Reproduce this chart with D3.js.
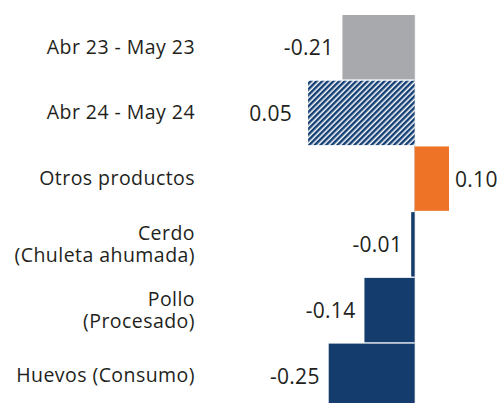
<!DOCTYPE html>
<html>
<head>
<meta charset="utf-8">
<script src="https://cdn.jsdelivr.net/npm/d3@7"></script>
<style>
  html, body { margin: 0; padding: 0; background: #fff; }
  svg { display: block; }
  text { font-family: "Open Sans", sans-serif; fill: #231f20; }
</style>
</head>
<body>
<svg id="chart" width="497" height="403"></svg>
<script>
// Data (top to bottom)
const categories = [
  ["Abr 23 - May 23"],
  ["Abr 24 - May 24"],
  ["Otros productos"],
  ["Cerdo", "(Chuleta ahumada)"],
  ["Pollo", "(Procesado)"],
  ["Huevos (Consumo)"]
];
const values = [-0.21, -0.31, 0.10, -0.01, -0.146, -0.25];
const valueLabels = ["-0.21", "0.05", "0.10", "-0.01", "-0.14", "-0.25"];
const fillTypes = ["gray", "hatch", "orange", "navy", "navy", "navy"];

const colors = { gray: "#a7a9ac", orange: "#ee7326", navy: "#143c6d", hatch: "url(#hatch)" };

const svg = d3.select("#chart");
const defs = svg.append("defs");
const pat = defs.append("pattern")
  .attr("id", "hatch")
  .attr("patternUnits", "userSpaceOnUse")
  .attr("width", 4).attr("height", 4)
  .attr("patternTransform", "rotate(45)");
pat.append("rect").attr("width", 4).attr("height", 4).attr("fill", "#fff");
pat.append("rect").attr("x", 0).attr("y", 0).attr("width", 2.5).attr("height", 4).attr("fill", "#143f75");

const idx = d3.range(categories.length);
const y = d3.scaleBand().domain(idx).range([15, 408]).paddingInner(0.02);
const x = d3.scaleLinear().domain([-0.25, 0.10]).range([328.7, 449]);

// zero line
svg.append("line")
  .attr("x1", x(0)).attr("x2", x(0))
  .attr("y1", 15).attr("y2", 403)
  .attr("stroke", "#d9d9d9").attr("stroke-width", 1.2);

// bars
svg.selectAll("rect.bar").data(idx).join("rect")
  .attr("class", "bar")
  .attr("x", i => Math.min(x(0), x(values[i])))
  .attr("width", i => Math.abs(x(values[i]) - x(0)))
  .attr("y", i => y(i))
  .attr("height", y.bandwidth())
  .attr("fill", i => colors[fillTypes[i]]);

// value labels
svg.selectAll("text.val").data(idx).join("text")
  .attr("class", "val")
  .attr("x", i => values[i] < 0 ? x(values[i]) - (i === 1 ? 16 : 9) : x(values[i]) + 6)
  .attr("y", i => y(i) + y.bandwidth() / 2 + 8)
  .attr("text-anchor", i => values[i] < 0 ? "end" : "start")
  .attr("font-size", 21)
  .attr("letter-spacing", 0.3)
  .text(i => valueLabels[i]);

// category labels
const cat = svg.selectAll("text.cat").data(idx).join("text")
  .attr("class", "cat")
  .attr("text-anchor", "end")
  .attr("font-size", 19.5)
  .attr("letter-spacing", 0.45);
cat.each(function(i) {
  const lines = categories[i];
  const cy = y(i) + y.bandwidth() / 2;
  const t = d3.select(this);
  if (lines.length === 1) {
    t.append("tspan").attr("x", 195).attr("y", cy + 6.5).text(lines[0]);
  } else {
    t.append("tspan").attr("x", 195).attr("y", cy - 4.5).text(lines[0]);
    t.append("tspan").attr("x", 195).attr("y", cy + 17.5).text(lines[1]);
  }
});
</script>
</body>
</html>
